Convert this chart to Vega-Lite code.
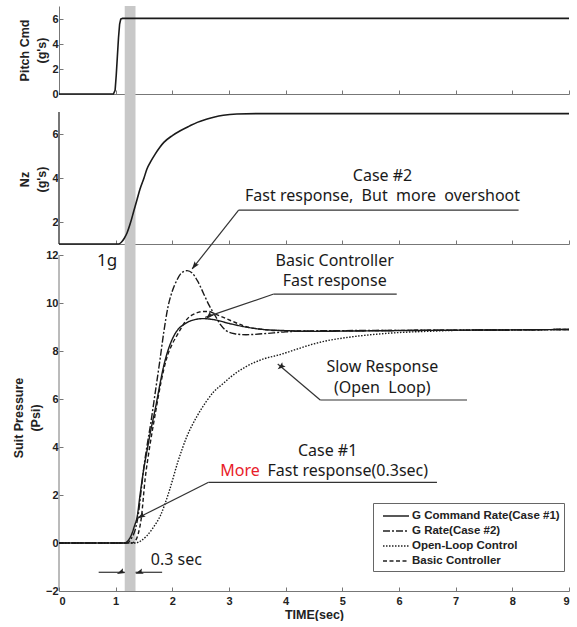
{
  "$schema": "https://vega.github.io/schema/vega-lite/v6.json",
  "padding": {"left": 12, "top": 6, "right": 0, "bottom": 0},
  "background": "white",
  "spacing": 0,
  "bounds": "flush",
  "config": {
    "view": {"stroke": null},
    "axis": {
      "labelFont": "Liberation Sans", "labelFontWeight": "bold", "labelFontSize": 11, "labelColor": "#222", "labelPadding": 5,
      "titleFont": "Liberation Sans", "titleFontWeight": "bold", "titleFontSize": 12.5, "titleColor": "#222", "titleLineHeight": 17, "titlePadding": 3,
      "domainColor": "#777", "tickColor": "#777", "grid": false, "tickSize": -4
    },
    "text": {"font": "Noto Sans", "color": "#1a1a1a"}
  },
  "datasets": {
    "band": [{"t": 1.16, "t2": 1.35}],
    "pitch": [
      {"t": 0, "g": 0}, {"t": 0.96, "g": 0}, {"t": 0.99, "g": 0.3}, {"t": 1.01, "g": 1.5}, {"t": 1.03, "g": 3.0},
      {"t": 1.05, "g": 4.5}, {"t": 1.07, "g": 5.6}, {"t": 1.09, "g": 6.0}, {"t": 1.12, "g": 6.05}, {"t": 9, "g": 6.05}
    ],
    "nz": [
      {"t": 0, "g": 1.0}, {"t": 1.05, "g": 1.0}, {"t": 1.1, "g": 1.08}, {"t": 1.15, "g": 1.25}, {"t": 1.2, "g": 1.5},
      {"t": 1.26, "g": 1.95}, {"t": 1.32, "g": 2.5}, {"t": 1.38, "g": 3.05}, {"t": 1.43, "g": 3.5}, {"t": 1.5, "g": 4.0},
      {"t": 1.55, "g": 4.4}, {"t": 1.61, "g": 4.71}, {"t": 1.7, "g": 5.1}, {"t": 1.78, "g": 5.4}, {"t": 1.85, "g": 5.62},
      {"t": 2.0, "g": 5.93}, {"t": 2.14, "g": 6.15}, {"t": 2.3, "g": 6.36}, {"t": 2.44, "g": 6.53}, {"t": 2.6, "g": 6.67},
      {"t": 2.73, "g": 6.76}, {"t": 2.9, "g": 6.85}, {"t": 3.14, "g": 6.91}, {"t": 3.5, "g": 6.93}, {"t": 9, "g": 6.93}
    ],
    "suit": [
      {"series": "G Command Rate(Case #1)", "t": 0, "v": 0},
      {"series": "G Command Rate(Case #1)", "t": 1.15, "v": 0},
      {"series": "G Command Rate(Case #1)", "t": 1.22, "v": 0.1},
      {"series": "G Command Rate(Case #1)", "t": 1.28, "v": 0.35},
      {"series": "G Command Rate(Case #1)", "t": 1.33, "v": 0.7},
      {"series": "G Command Rate(Case #1)", "t": 1.38, "v": 1.1},
      {"series": "G Command Rate(Case #1)", "t": 1.43, "v": 2.0},
      {"series": "G Command Rate(Case #1)", "t": 1.49, "v": 3.0},
      {"series": "G Command Rate(Case #1)", "t": 1.55, "v": 3.8},
      {"series": "G Command Rate(Case #1)", "t": 1.62, "v": 4.7},
      {"series": "G Command Rate(Case #1)", "t": 1.7, "v": 5.6},
      {"series": "G Command Rate(Case #1)", "t": 1.78, "v": 6.6},
      {"series": "G Command Rate(Case #1)", "t": 1.85, "v": 7.4},
      {"series": "G Command Rate(Case #1)", "t": 1.92, "v": 8.0},
      {"series": "G Command Rate(Case #1)", "t": 2.0, "v": 8.5},
      {"series": "G Command Rate(Case #1)", "t": 2.1, "v": 8.9},
      {"series": "G Command Rate(Case #1)", "t": 2.2, "v": 9.1},
      {"series": "G Command Rate(Case #1)", "t": 2.35, "v": 9.28},
      {"series": "G Command Rate(Case #1)", "t": 2.55, "v": 9.35},
      {"series": "G Command Rate(Case #1)", "t": 2.75, "v": 9.3},
      {"series": "G Command Rate(Case #1)", "t": 3.0, "v": 9.15},
      {"series": "G Command Rate(Case #1)", "t": 3.3, "v": 9.0},
      {"series": "G Command Rate(Case #1)", "t": 3.6, "v": 8.9},
      {"series": "G Command Rate(Case #1)", "t": 4.0, "v": 8.85},
      {"series": "G Command Rate(Case #1)", "t": 4.5, "v": 8.82},
      {"series": "G Command Rate(Case #1)", "t": 5, "v": 8.83},
      {"series": "G Command Rate(Case #1)", "t": 6, "v": 8.85},
      {"series": "G Command Rate(Case #1)", "t": 7, "v": 8.87},
      {"series": "G Command Rate(Case #1)", "t": 8, "v": 8.88},
      {"series": "G Command Rate(Case #1)", "t": 9, "v": 8.9},
      {"series": "G Rate(Case #2)", "t": 0, "v": 0},
      {"series": "G Rate(Case #2)", "t": 1.2, "v": 0},
      {"series": "G Rate(Case #2)", "t": 1.28, "v": 0.2},
      {"series": "G Rate(Case #2)", "t": 1.35, "v": 0.6},
      {"series": "G Rate(Case #2)", "t": 1.4, "v": 1.2},
      {"series": "G Rate(Case #2)", "t": 1.45, "v": 2.2},
      {"series": "G Rate(Case #2)", "t": 1.5, "v": 3.2},
      {"series": "G Rate(Case #2)", "t": 1.55, "v": 4.0},
      {"series": "G Rate(Case #2)", "t": 1.62, "v": 5.0},
      {"series": "G Rate(Case #2)", "t": 1.7, "v": 6.3},
      {"series": "G Rate(Case #2)", "t": 1.78, "v": 7.6},
      {"series": "G Rate(Case #2)", "t": 1.85, "v": 8.8},
      {"series": "G Rate(Case #2)", "t": 1.92, "v": 9.8},
      {"series": "G Rate(Case #2)", "t": 2.0, "v": 10.5},
      {"series": "G Rate(Case #2)", "t": 2.08, "v": 10.95},
      {"series": "G Rate(Case #2)", "t": 2.16, "v": 11.25},
      {"series": "G Rate(Case #2)", "t": 2.26, "v": 11.35},
      {"series": "G Rate(Case #2)", "t": 2.35, "v": 11.25},
      {"series": "G Rate(Case #2)", "t": 2.45, "v": 10.9},
      {"series": "G Rate(Case #2)", "t": 2.55, "v": 10.4},
      {"series": "G Rate(Case #2)", "t": 2.65, "v": 9.9},
      {"series": "G Rate(Case #2)", "t": 2.75, "v": 9.5},
      {"series": "G Rate(Case #2)", "t": 2.85, "v": 9.1},
      {"series": "G Rate(Case #2)", "t": 2.95, "v": 8.85},
      {"series": "G Rate(Case #2)", "t": 3.1, "v": 8.72},
      {"series": "G Rate(Case #2)", "t": 3.3, "v": 8.68},
      {"series": "G Rate(Case #2)", "t": 3.6, "v": 8.72},
      {"series": "G Rate(Case #2)", "t": 4.0, "v": 8.8},
      {"series": "G Rate(Case #2)", "t": 4.5, "v": 8.84},
      {"series": "G Rate(Case #2)", "t": 5, "v": 8.85},
      {"series": "G Rate(Case #2)", "t": 6, "v": 8.86},
      {"series": "G Rate(Case #2)", "t": 7, "v": 8.87},
      {"series": "G Rate(Case #2)", "t": 8, "v": 8.88},
      {"series": "G Rate(Case #2)", "t": 9, "v": 8.9},
      {"series": "Open-Loop Control", "t": 0, "v": 0},
      {"series": "Open-Loop Control", "t": 1.35, "v": 0},
      {"series": "Open-Loop Control", "t": 1.45, "v": 0.1},
      {"series": "Open-Loop Control", "t": 1.55, "v": 0.3},
      {"series": "Open-Loop Control", "t": 1.65, "v": 0.6},
      {"series": "Open-Loop Control", "t": 1.8, "v": 1.2},
      {"series": "Open-Loop Control", "t": 1.95, "v": 2.2},
      {"series": "Open-Loop Control", "t": 2.1, "v": 3.4},
      {"series": "Open-Loop Control", "t": 2.25, "v": 4.4},
      {"series": "Open-Loop Control", "t": 2.44, "v": 5.3},
      {"series": "Open-Loop Control", "t": 2.6, "v": 5.9},
      {"series": "Open-Loop Control", "t": 2.73, "v": 6.3},
      {"series": "Open-Loop Control", "t": 2.9, "v": 6.65},
      {"series": "Open-Loop Control", "t": 3.02, "v": 6.9},
      {"series": "Open-Loop Control", "t": 3.3, "v": 7.35},
      {"series": "Open-Loop Control", "t": 3.61, "v": 7.67},
      {"series": "Open-Loop Control", "t": 3.9, "v": 7.85},
      {"series": "Open-Loop Control", "t": 4.2, "v": 8.08},
      {"series": "Open-Loop Control", "t": 4.5, "v": 8.3},
      {"series": "Open-Loop Control", "t": 4.73, "v": 8.43},
      {"series": "Open-Loop Control", "t": 5.1, "v": 8.57},
      {"series": "Open-Loop Control", "t": 5.6, "v": 8.7},
      {"series": "Open-Loop Control", "t": 6.0, "v": 8.77},
      {"series": "Open-Loop Control", "t": 6.5, "v": 8.82},
      {"series": "Open-Loop Control", "t": 7, "v": 8.86},
      {"series": "Open-Loop Control", "t": 8, "v": 8.88},
      {"series": "Open-Loop Control", "t": 9, "v": 8.9},
      {"series": "Basic Controller", "t": 0, "v": 0},
      {"series": "Basic Controller", "t": 1.28, "v": 0},
      {"series": "Basic Controller", "t": 1.35, "v": 0.1},
      {"series": "Basic Controller", "t": 1.4, "v": 0.4},
      {"series": "Basic Controller", "t": 1.45, "v": 1.0},
      {"series": "Basic Controller", "t": 1.52, "v": 2.67},
      {"series": "Basic Controller", "t": 1.6, "v": 4.0},
      {"series": "Basic Controller", "t": 1.7, "v": 5.4},
      {"series": "Basic Controller", "t": 1.8, "v": 6.7},
      {"series": "Basic Controller", "t": 1.9, "v": 7.7},
      {"series": "Basic Controller", "t": 2.0, "v": 8.3},
      {"series": "Basic Controller", "t": 2.08, "v": 8.64},
      {"series": "Basic Controller", "t": 2.18, "v": 9.05},
      {"series": "Basic Controller", "t": 2.26, "v": 9.33},
      {"series": "Basic Controller", "t": 2.35, "v": 9.5},
      {"series": "Basic Controller", "t": 2.44, "v": 9.6},
      {"series": "Basic Controller", "t": 2.55, "v": 9.65},
      {"series": "Basic Controller", "t": 2.65, "v": 9.65},
      {"series": "Basic Controller", "t": 2.75, "v": 9.55},
      {"series": "Basic Controller", "t": 2.9, "v": 9.4},
      {"series": "Basic Controller", "t": 3.1, "v": 9.2},
      {"series": "Basic Controller", "t": 3.32, "v": 9.0},
      {"series": "Basic Controller", "t": 3.6, "v": 8.9},
      {"series": "Basic Controller", "t": 3.9, "v": 8.85},
      {"series": "Basic Controller", "t": 4.5, "v": 8.83},
      {"series": "Basic Controller", "t": 5, "v": 8.84},
      {"series": "Basic Controller", "t": 6, "v": 8.86},
      {"series": "Basic Controller", "t": 7, "v": 8.87},
      {"series": "Basic Controller", "t": 8, "v": 8.88},
      {"series": "Basic Controller", "t": 9, "v": 8.9}
    ],
    "leaders": [
      {"t": 3.17, "v": 13.875, "t2": 8.11, "v2": 13.875},
      {"t": 3.17, "v": 13.875, "t2": 2.35, "v2": 11.42},
      {"t": 3.79, "v": 10.375, "t2": 5.96, "v2": 10.375},
      {"t": 3.79, "v": 10.375, "t2": 2.58, "v2": 9.4},
      {"t": 4.61, "v": 5.96, "t2": 7.2, "v2": 5.96},
      {"t": 4.61, "v": 5.96, "t2": 3.86, "v2": 7.46},
      {"t": 2.64, "v": 2.53, "t2": 6.67, "v2": 2.53},
      {"t": 2.64, "v": 2.53, "t2": 1.385, "v2": 1.04},
      {"t": 0.70, "v": -1.22, "t2": 1.16, "v2": -1.22},
      {"t": 1.82, "v": -1.22, "t2": 1.35, "v2": -1.22}
    ],
    "arrows": [
      {"name": "case2", "t": 2.391, "v": 11.55},
      {"name": "basic", "t": 2.649, "v": 9.46},
      {"name": "slow", "t": 3.917, "v": 7.35},
      {"name": "case1", "t": 1.449, "v": 1.117},
      {"name": "left", "t": 1.089, "v": -1.22},
      {"name": "right", "t": 1.417, "v": -1.22}
    ],
    "notes": [
      {"kind": "block", "label": ["Case #2", "Fast response,\u00a0 But\u00a0 more\u00a0 overshoot"], "t": 5.71, "v": 15.3},
      {"kind": "block", "label": ["Basic Controller", "Fast response"], "t": 4.865, "v": 11.76},
      {"kind": "block", "label": ["Slow Response", "(Open\u00a0 Loop)"], "t": 5.705, "v": 7.32},
      {"kind": "block", "label": ["Case #1"], "t": 4.74, "v": 3.85},
      {"kind": "block", "label": ["0.3 sec"], "t": 2.07, "v": -0.69},
      {"kind": "big", "label": "1g", "t": 0.85, "v": 11.76},
      {"kind": "red", "label": "More", "t": 2.845, "v": 3.01},
      {"kind": "left", "label": "Fast response(0.3sec)", "t": 3.68, "v": 3.01}
    ]
  },
  "vconcat": [
    {
      "width": 510, "height": 88,
      "encoding": {
        "x": {"field": "t", "type": "quantitative", "scale": {"domain": [0, 9], "nice": false, "zero": false},
              "axis": {"values": [0, 1, 2, 3, 4, 5, 6, 7, 8, 9], "labels": false, "title": null}}
      },
      "layer": [
        {"data": {"name": "band"}, "mark": {"type": "rect", "color": "#c8c8c8"}, "encoding": {"x2": {"field": "t2"}}},
        {"data": {"name": "pitch"}, "mark": {"type": "line", "color": "#1a1a1a", "strokeWidth": 1.6},
         "encoding": {"y": {"field": "g", "type": "quantitative", "scale": {"domain": [0, 7.04], "nice": false, "zero": false},
                            "axis": {"values": [0, 2, 4, 6], "title": ["Pitch Cmd", "(g's)"]}}}}
      ]
    },
    {
      "width": 510, "height": 150,
      "encoding": {
        "x": {"field": "t", "type": "quantitative", "scale": {"domain": [0, 9], "nice": false, "zero": false},
              "axis": {"values": [0, 1, 2, 3, 4, 5, 6, 7, 8, 9], "labels": false, "title": null}}
      },
      "layer": [
        {"data": {"name": "band"}, "mark": {"type": "rect", "color": "#c8c8c8"}, "encoding": {"x2": {"field": "t2"}}},
        {"data": {"name": "nz"}, "mark": {"type": "rule", "color": "#777"},
         "encoding": {"x": {"datum": 0}, "y": {"datum": 1, "type": "quantitative", "scale": {"domain": [1, 7.82], "nice": false, "zero": false}}, "y2": {"datum": 7}}},
        {"data": {"name": "nz"}, "mark": {"type": "line", "color": "#1a1a1a", "strokeWidth": 1.6, "interpolate": "monotone"},
         "encoding": {"y": {"field": "g", "type": "quantitative", "scale": {"domain": [1, 7.82], "nice": false, "zero": false},
                            "axis": {"values": [2, 3, 4, 5, 6, 7], "title": ["Nz", "(g's)"], "domain": false, "titleY": 85}}}}
      ]
    },
    {
      "width": 510, "height": 347,
      "encoding": {
        "x": {"field": "t", "type": "quantitative", "scale": {"domain": [0, 9], "nice": false, "zero": false},
              "axis": {"values": [0, 1, 2, 3, 4, 5, 6, 7, 8, 9], "title": "TIME(sec)", "labelPadding": 8, "titlePadding": 2}}
      },
      "layer": [
        {"data": {"name": "band"}, "mark": {"type": "rect", "color": "#c8c8c8"}, "encoding": {"x2": {"field": "t2"}}},
        {"data": {"name": "band"}, "mark": {"type": "rule", "color": "#777"},
         "encoding": {"x": {"datum": 0}, "y": {"datum": -2, "type": "quantitative", "scale": {"domain": [-2, 12.46], "nice": false, "zero": false}}, "y2": {"datum": 12}}},
        {"data": {"name": "suit"}, "mark": {"type": "line", "color": "#1a1a1a", "strokeWidth": 1.4, "interpolate": "monotone"},
         "encoding": {
           "y": {"field": "v", "type": "quantitative", "scale": {"domain": [-2, 12.46], "nice": false, "zero": false},
                 "axis": {"values": [-2, 0, 2, 4, 6, 8, 10, 12], "title": ["Suit Pressure", "(Psi)"], "domain": false}},
           "strokeDash": {"field": "series", "type": "nominal",
             "scale": {"domain": ["G Command Rate(Case #1)", "G Rate(Case #2)", "Open-Loop Control", "Basic Controller"],
                       "range": [[1, 0], [7, 2, 2, 2], [1.5, 1.5], [4, 2.5]]},
             "legend": {"orient": "none", "legendX": 314, "legendY": 497, "title": null, "symbolType": "M-0.375,0H2.875", "symbolSize": 256,
                        "symbolStrokeWidth": 1.3, "symbolStrokeColor": "#222", "labelFont": "Liberation Sans", "labelFontWeight": "bold",
                        "labelFontSize": 11.5, "labelColor": "#222", "strokeColor": "#666", "fillColor": "white", "padding": 4, "rowPadding": 0, "labelOffset": 17}}
         }},
        {"data": {"name": "leaders"}, "mark": {"type": "rule", "color": "#333", "strokeWidth": 1.2},
         "encoding": {"x2": {"field": "t2"},
           "y": {"field": "v", "type": "quantitative", "scale": {"domain": [-2, 12.46], "nice": false, "zero": false}}, "y2": {"field": "v2"}}},
        {"data": {"name": "arrows"}, "mark": {"type": "point", "shape": "M0,-1L0.65,0.9L0,0.55L-0.65,0.9Z", "filled": true, "color": "#222", "size": 70, "opacity": 1},
         "encoding": {
           "y": {"field": "v", "type": "quantitative", "scale": {"domain": [-2, 12.46], "nice": false, "zero": false}},
           "angle": {"field": "name", "type": "nominal", "legend": null,
                     "scale": {"domain": ["case2", "basic", "slow", "case1", "left", "right"], "range": [218, 251, 310, 243, 90, 270]}}
         }},
        {"data": {"name": "notes"}, "transform": [{"filter": "datum.kind === 'block'"}],
         "mark": {"type": "text", "fontSize": 16, "align": "center", "baseline": "middle", "lineHeight": 20.5},
         "encoding": {"text": {"field": "label"},
           "y": {"field": "v", "type": "quantitative", "scale": {"domain": [-2, 12.46], "nice": false, "zero": false}}}},
        {"data": {"name": "notes"}, "transform": [{"filter": "datum.kind === 'big'"}],
         "mark": {"type": "text", "fontSize": 17, "align": "center", "baseline": "middle"},
         "encoding": {"text": {"field": "label"},
           "y": {"field": "v", "type": "quantitative", "scale": {"domain": [-2, 12.46], "nice": false, "zero": false}}}},
        {"data": {"name": "notes"}, "transform": [{"filter": "datum.kind === 'red'"}],
         "mark": {"type": "text", "fontSize": 16, "align": "left", "baseline": "middle", "color": "#e8202a"},
         "encoding": {"text": {"field": "label"},
           "y": {"field": "v", "type": "quantitative", "scale": {"domain": [-2, 12.46], "nice": false, "zero": false}}}},
        {"data": {"name": "notes"}, "transform": [{"filter": "datum.kind === 'left'"}],
         "mark": {"type": "text", "fontSize": 16, "align": "left", "baseline": "middle"},
         "encoding": {"text": {"field": "label"},
           "y": {"field": "v", "type": "quantitative", "scale": {"domain": [-2, 12.46], "nice": false, "zero": false}}}}
      ]
    }
  ]
}
